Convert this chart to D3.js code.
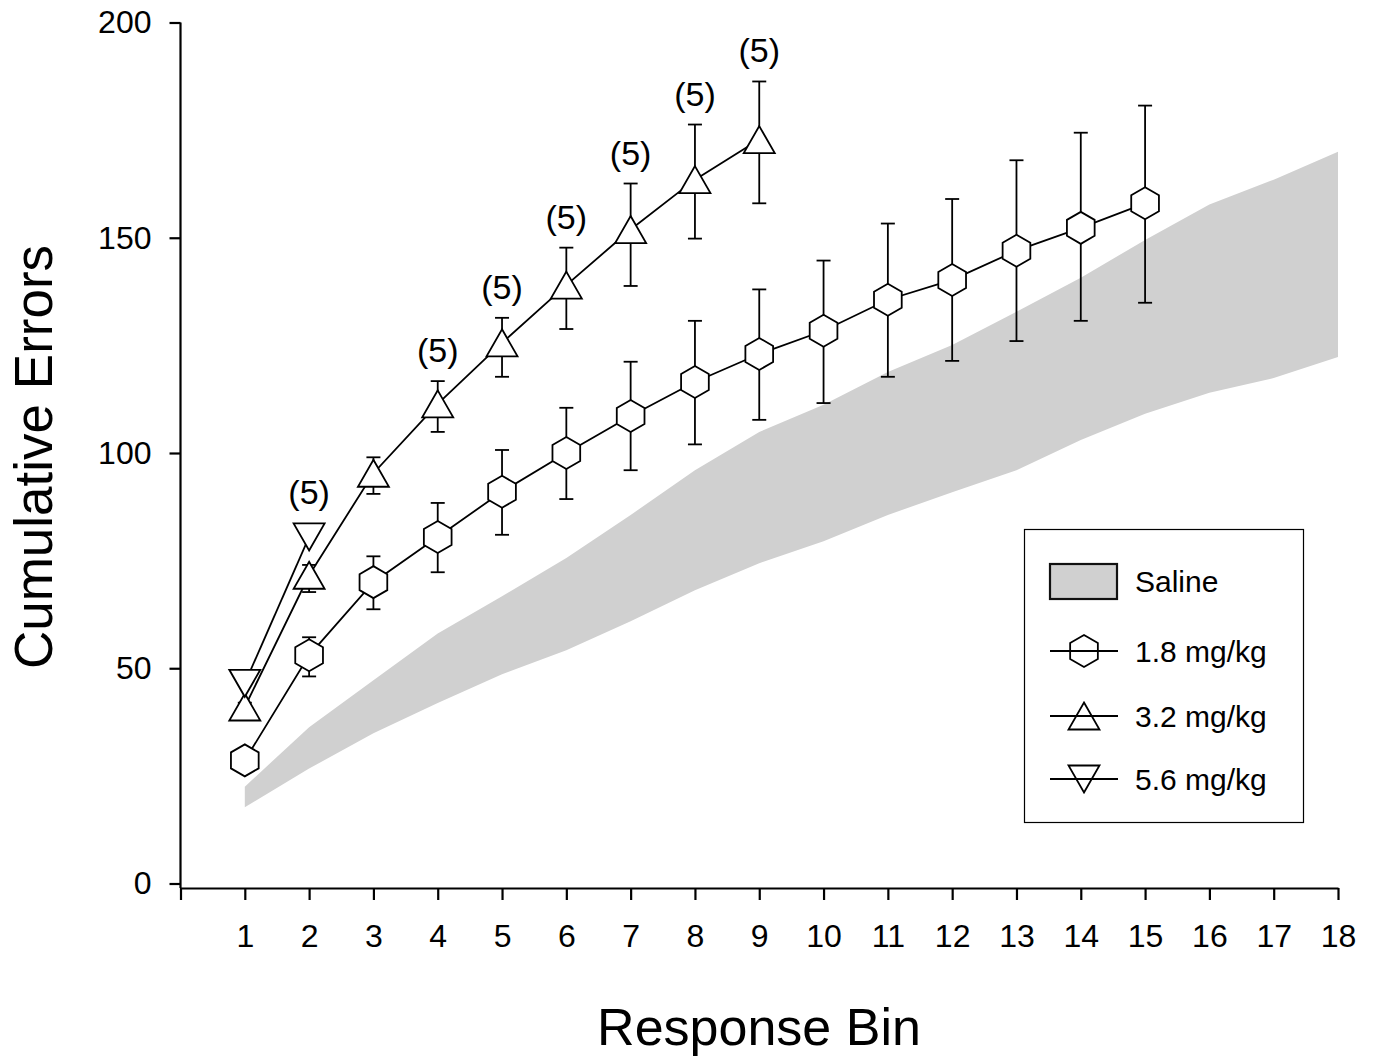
<!DOCTYPE html>
<html>
<head>
<meta charset="utf-8">
<script src="https://cdn.jsdelivr.net/npm/d3@7"></script>
<style>
  html, body { margin: 0; padding: 0; background: #fff; }
  svg { display: block; font-family: Arial, "Liberation Sans", Helvetica, sans-serif; }
</style>
</head>
<body>
<svg id="chart" width="1376" height="1061"></svg>
<script>
// bins and tick labels
const xTicks = d3.range(0, 19);
const yTicks = [0, 50, 100, 150, 200];

// saline range (shaded band)
const salineBins = d3.range(1, 19);
const salineLow = [17.7, 26.7, 34.9, 41.9, 48.6, 54.2, 60.9, 68.1, 74.4, 79.5, 85.6, 90.9, 96.0, 103.0, 109.1, 114.0, 117.4, 122.3];
const salineHigh = [22.5, 36.3, 47.2, 58.1, 66.7, 75.6, 85.6, 96.0, 104.9, 111.2, 118.8, 125.1, 132.8, 140.7, 149.5, 157.7, 163.5, 170.0];

// 1.8 mg/kg
const bins18 = d3.range(1, 16);
const mean18 = [28.6, 53.0, 70.0, 80.5, 91.0, 100.0, 108.6, 116.5, 123.0, 128.4, 135.6, 140.2, 147.0, 152.3, 158.0];
const errHi18 = [30.0, 57.2, 76.0, 88.4, 100.7, 110.5, 121.2, 130.7, 138.0, 144.7, 153.3, 159.0, 168.0, 174.4, 180.7];
const errLo18 = [27.2, 48.1, 63.7, 72.3, 81.0, 89.3, 96.0, 102.0, 107.7, 111.6, 117.7, 121.4, 126.0, 130.7, 134.9];

// 3.2 mg/kg
const bins32 = d3.range(1, 10);
const mean32 = [41.0, 71.6, 95.3, 111.4, 125.6, 139.0, 151.9, 163.5, 172.8];
const errHi32 = [42.0, 74.0, 99.0, 116.7, 131.4, 147.7, 162.6, 176.3, 186.3];
const errLo32 = [40.0, 67.7, 90.5, 104.9, 117.7, 128.8, 138.8, 149.8, 158.0];

// 5.6 mg/kg
const bins56 = [1, 2];
const mean56 = [46.5, 80.5];

// "(n)" annotations: series, bin, text
const notes = [
  { series: '5.6', bin: 2, text: '(5)' },
  { series: '3.2', bin: 4, text: '(5)' },
  { series: '3.2', bin: 5, text: '(5)' },
  { series: '3.2', bin: 6, text: '(5)' },
  { series: '3.2', bin: 7, text: '(5)' },
  { series: '3.2', bin: 8, text: '(5)' },
  { series: '3.2', bin: 9, text: '(5)' }
];

const legendLabels = ['Saline', '1.8 mg/kg', '3.2 mg/kg', '5.6 mg/kg'];

const svg = d3.select('#chart');
const x = d3.scaleLinear().domain([0, 18]).range([180.5, 1338]);
const y = d3.scaleLinear().domain([0, 200]).range([883.5, 22.5]);

// symbol path generators (centered on 0,0)
const hexPath = (r) => {
  const pts = d3.range(6).map((k) => {
    const a = (-90 + 60 * k) * Math.PI / 180;
    return [r * Math.cos(a), r * Math.sin(a)];
  });
  return 'M' + pts.map((p) => p.join(',')).join('L') + 'Z';
};
const triUp = (w, h) => `M0,${-h / 2}L${w / 2},${h / 2}L${-w / 2},${h / 2}Z`;
const triDown = (w, h) => `M0,${h / 2}L${w / 2},${-h / 2}L${-w / 2},${-h / 2}Z`;

const series = [
  { key: '1.8', bins: bins18, mean: mean18, hi: errHi18, lo: errLo18, path: hexPath(16) },
  { key: '3.2', bins: bins32, mean: mean32, hi: errHi32, lo: errLo32, path: triUp(31, 27) },
  { key: '5.6', bins: bins56, mean: mean56, hi: null, lo: null, path: triDown(31, 27) }
];

// saline band
const band = salineBins.map((b, i) => ({ b, lo: salineLow[i], hi: salineHigh[i] }));
svg.append('path')
  .datum(band)
  .attr('fill', '#d0d0d0')
  .attr('d', d3.area().x((d) => x(d.b)).y0((d) => y(d.lo)).y1((d) => y(d.hi)));

// axes
const yAxis = d3.axisLeft(y).tickValues(yTicks).tickSize(11).tickPadding(18).tickSizeOuter(0);
const gy = svg.append('g').attr('transform', 'translate(180.5,0)').call(yAxis);
gy.select('.domain').attr('d', `M0,${y(200)}V888`);

const xAxis = d3.axisBottom(x).tickValues(xTicks).tickSize(12).tickPadding(24).tickSizeOuter(0)
  .tickFormat((d) => (d === 0 ? '' : d));
const gx = svg.append('g').attr('transform', 'translate(0,888)').call(xAxis);

[gx, gy].forEach((g) => {
  g.selectAll('.domain').attr('stroke', '#000').attr('stroke-width', 2.2);
  g.selectAll('.tick line').attr('stroke', '#000').attr('stroke-width', 2.2);
  g.selectAll('.tick text').attr('font-size', 32).attr('fill', '#000')
    .style('font-family', 'Arial, "Liberation Sans", sans-serif');
});

// axis titles
svg.append('text')
  .attr('x', 759).attr('y', 1045)
  .attr('text-anchor', 'middle').attr('font-size', 52)
  .text('Response Bin');
svg.append('text')
  .attr('transform', 'translate(52,457) rotate(-90)')
  .attr('text-anchor', 'middle').attr('font-size', 53)
  .text('Cumulative Errors');

// series lines, error bars, markers
const line = d3.line().x((d) => x(d.b)).y((d) => y(d.v));
series.forEach((s) => {
  const pts = s.bins.map((b, i) => ({ b, v: s.mean[i], hi: s.hi ? s.hi[i] : null, lo: s.lo ? s.lo[i] : null }));
  const g = svg.append('g');
  g.append('path').datum(pts)
    .attr('fill', 'none').attr('stroke', '#000').attr('stroke-width', 1.8)
    .attr('d', line);
  if (s.hi) {
    const eb = g.selectAll('.err').data(pts).join('g');
    eb.append('line')
      .attr('x1', (d) => x(d.b)).attr('x2', (d) => x(d.b))
      .attr('y1', (d) => y(d.hi)).attr('y2', (d) => y(d.lo))
      .attr('stroke', '#000').attr('stroke-width', 1.8);
    ['hi', 'lo'].forEach((k) => {
      eb.append('line')
        .attr('x1', (d) => x(d.b) - 7).attr('x2', (d) => x(d.b) + 7)
        .attr('y1', (d) => y(d[k])).attr('y2', (d) => y(d[k]))
        .attr('stroke', '#000').attr('stroke-width', 1.8);
    });
  }
  g.selectAll('.mk').data(pts).join('path')
    .attr('transform', (d) => `translate(${x(d.b)},${y(d.v)})`)
    .attr('d', s.path)
    .attr('fill', '#fff').attr('stroke', '#000').attr('stroke-width', 1.8);
});

// annotations
notes.forEach((n) => {
  const s = series.find((d) => d.key === n.series);
  const i = s.bins.indexOf(n.bin);
  const topPx = Math.min(s.hi ? y(s.hi[i]) : Infinity, y(s.mean[i]) - 14);
  svg.append('text')
    .attr('x', x(n.bin)).attr('y', topPx - 19)
    .attr('text-anchor', 'middle').attr('font-size', 34)
    .text(n.text);
});

// legend
const lg = svg.append('g').attr('transform', 'translate(1024,529)');
lg.append('rect').attr('x', 0.5).attr('y', 0.5).attr('width', 279).attr('height', 293)
  .attr('fill', '#fff').attr('stroke', '#000').attr('stroke-width', 1.2);
lg.append('rect').attr('x', 26).attr('y', 35).attr('width', 67).attr('height', 35)
  .attr('fill', '#d0d0d0').attr('stroke', '#111').attr('stroke-width', 2.2);
const rowY = [52, 122, 187, 250];
legendLabels.forEach((t, i) => {
  lg.append('text').attr('x', 111).attr('y', rowY[i] + 11).attr('font-size', 30).text(t);
  if (i > 0) {
    lg.append('line').attr('x1', 26).attr('x2', 94).attr('y1', rowY[i]).attr('y2', rowY[i])
      .attr('stroke', '#000').attr('stroke-width', 1.8);
    lg.append('path').attr('transform', `translate(60,${rowY[i]})`)
      .attr('d', series[i - 1].path)
      .attr('fill', 'none').attr('stroke', '#000').attr('stroke-width', 1.8);
  }
});
</script>
</body>
</html>
